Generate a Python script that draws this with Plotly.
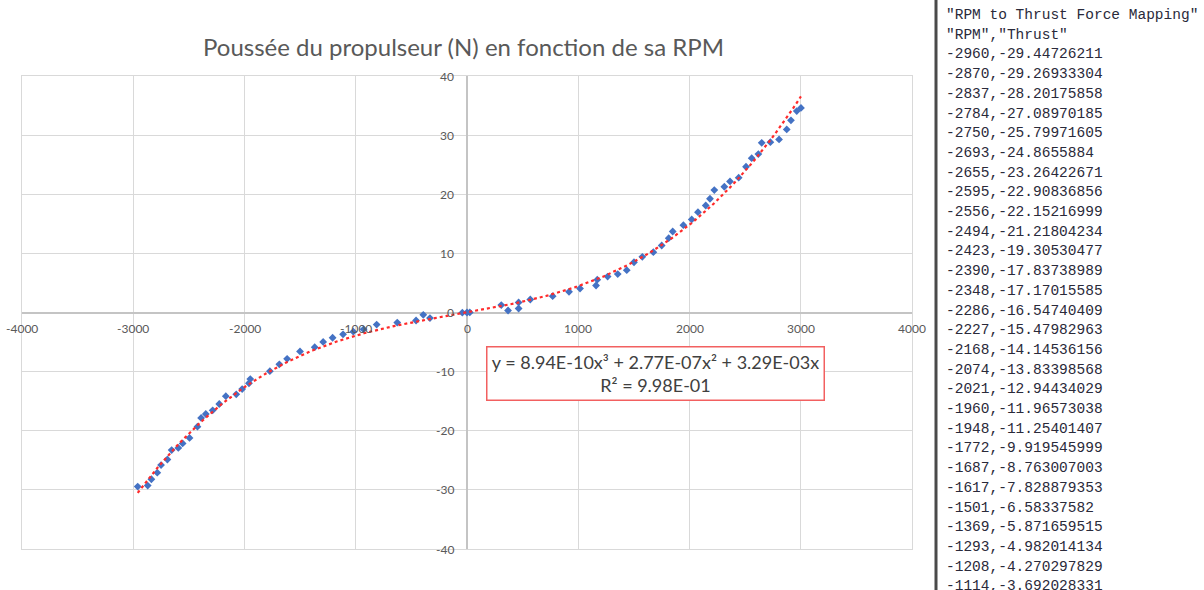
import plotly.graph_objects as go
import numpy as np

# ---- data -------------------------------------------------------------
# rows exported to the CSV listing (shown on the right)
csv_rpm = [-2960, -2870, -2837, -2784, -2750, -2693, -2655, -2595, -2556, -2494,
           -2423, -2390, -2348, -2286, -2227, -2168, -2074, -2021, -1960, -1948,
           -1772, -1687, -1617, -1501, -1369, -1293, -1208, -1114]
csv_thrust = [-29.44726211, -29.26933304, -28.20175858, -27.08970185, -25.79971605,
              -24.8655884, -23.26422671, -22.90836856, -22.15216999, -21.21804234,
              -19.30530477, -17.83738989, -17.17015585, -16.54740409, -15.47982963,
              -14.14536156, -13.83398568, -12.94434029, -11.96573038, -11.25401407,
              -9.919545999, -8.763007003, -7.828879353, -6.58337582, -5.871659515,
              -4.982014134, -4.270297829, -3.692028331]

# remaining measurements
more_rpm = [-1022, -930, -812, -627, -458, -393, -333, -42, 0, 25,
            308, 369, 464, 464, 569, 770, 917, 1016, 1160, 1171,
            1264, 1355, 1436, 1501, 1576, 1675, 1750, 1813, 1849, 1945,
            2020, 2076, 2146, 2184, 2223, 2313, 2364, 2442, 2508, 2559,
            2619, 2649, 2727, 2805, 2874, 2912, 2964, 3002]
more_thrust = [-3.25, -2.85, -2.05, -1.7, -1.35, -0.4, -0.95, -0.03, 0.0, 0.02,
               1.25, 0.34, 1.7, 0.68, 2.2, 2.76, 3.5, 4.06, 4.57, 5.56,
               6.08, 6.5, 7.16, 8.5, 9.42, 10.2, 11.33, 12.57, 13.7, 14.77,
               15.74, 16.97, 18.1, 19.24, 20.7, 21.27, 22.17, 22.8, 24.65, 26.1,
               26.8, 28.7, 28.8, 29.27, 30.96, 32.5, 34.06, 34.6]

rpm = csv_rpm + more_rpm
thrust = csv_thrust + more_thrust

# cubic trendline coefficients (x^3, x^2, x) and R^2
trend_coef = [8.94e-10, 2.77e-07, 3.29e-03]
r_squared = 0.998

x_ticks = [-4000, -3000, -2000, -1000, 0, 1000, 2000, 3000, 4000]
y_ticks = [40, 30, 20, 10, 0, -10, -20, -30, -40]

title_text = "Poussée du propulseur (N) en fonction de sa RPM"
csv_title = '"RPM to Thrust Force Mapping"'
csv_header = '"RPM","Thrust"'

# ---- figure -----------------------------------------------------------
W, H = 1204, 590
PL, PR, PT, PB = 22, 912, 76, 549   # plot area edges in pixels
FONT = "Lato"
TICK_COLOR = "#595959"
GRID = "#D9D9D9"


def px_x(px):
    """pixel column -> paper x (paper spans the plot area)"""
    return (px - PL) / (PR - PL)


def px_y(py):
    """pixel row from top -> paper y"""
    return (PB - py) / (PB - PT)


fig = go.Figure()

fig.add_trace(go.Scatter(
    x=rpm, y=thrust, mode="markers",
    marker=dict(symbol="diamond", size=6, color="#4472C4",
                line=dict(width=0)),
    hoverinfo="x+y", showlegend=False,
))

tx = np.linspace(min(rpm), max(rpm), 300)
a3, a2, a1 = trend_coef
ty = a3 * tx**3 + a2 * tx**2 + a1 * tx
fig.add_trace(go.Scatter(
    x=tx, y=ty, mode="lines",
    line=dict(color="#FF2A2A", width=2.2, dash="dot"),
    hoverinfo="skip", showlegend=False,
))

annotations = []

# tick labels sit along the axes crossing at zero
for v in x_ticks:
    annotations.append(dict(
        x=v, y=0, xref="x", yref="y", text=str(v), showarrow=False,
        xanchor="center", yanchor="middle", yshift=-16,
        font=dict(family=FONT, size=12, color=TICK_COLOR),
    ))
for v in y_ticks:
    annotations.append(dict(
        x=0, y=v, xref="x", yref="y", text=str(v), showarrow=False,
        xanchor="right", yanchor="middle", xshift=-11,
        font=dict(family=FONT, size=12, color=TICK_COLOR),
    ))

# trendline equation label
eq_text = ("y = {:.2E}x³ + {:.2E}x² + {:.2E}x<br>R² = {:.2E}"
           .format(a3, a2, a1, r_squared))
annotations.append(dict(
    x=px_x(655), y=px_y(373), xref="paper", yref="paper",
    text=eq_text, showarrow=False, align="center",
    xanchor="center", yanchor="middle",
    width=330, height=46, borderpad=3,
    bgcolor="white", bordercolor="#F26060", borderwidth=1.5,
    font=dict(family=FONT, size=18, color="#404040"),
))

# chart title
annotations.append(dict(
    x=px_x(463), y=px_y(47), xref="paper", yref="paper",
    text=title_text, showarrow=False,
    xanchor="center", yanchor="middle",
    font=dict(family=FONT, size=24, color="#595959"),
))

# CSV listing panel
lines = [csv_title, csv_header] + [f"{r},{t}" for r, t in zip(csv_rpm, csv_thrust)]
for i, s in enumerate(lines):
    annotations.append(dict(
        x=px_x(944), y=px_y(15 + i * 19.7), xref="paper", yref="paper",
        text=s, showarrow=False, xanchor="left", yanchor="middle",
        font=dict(family="Liberation Mono", size=14.5, color="#2A2A3A"),
    ))

axis_common = dict(showticklabels=False, showgrid=True, gridcolor=GRID,
                   gridwidth=1.3, zeroline=True, zerolinecolor="#C4C4C4",
                   zerolinewidth=1.6, showline=True, linecolor=GRID,
                   linewidth=1.3, mirror=True, ticks="", fixedrange=True)

fig.update_layout(
    width=W, height=H,
    margin=dict(l=PL, r=W - PR, t=PT, b=H - PB),
    paper_bgcolor="white", plot_bgcolor="white",
    xaxis=dict(range=[-4000, 4000], tickvals=x_ticks, **axis_common),
    yaxis=dict(range=[-40, 40], tickvals=y_ticks, **axis_common),
    annotations=annotations,
    shapes=[dict(type="line", xref="paper", yref="paper",
                 x0=px_x(936), x1=px_x(936), y0=px_y(0), y1=px_y(H),
                 line=dict(color="#4A4A4A", width=3))],
)

fig.write_html("out.html")
